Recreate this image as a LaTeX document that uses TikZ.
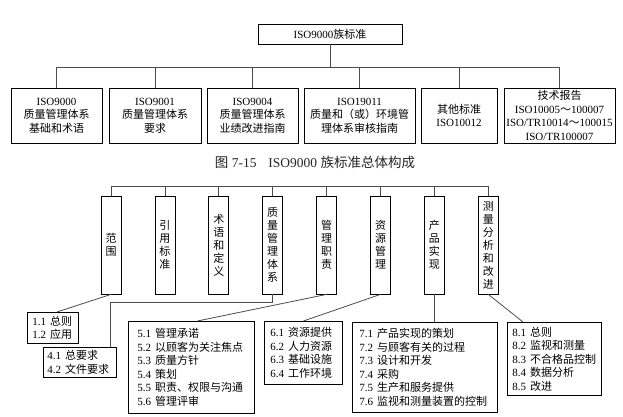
\documentclass[tikz,border=0pt]{standalone}
\usepackage{fontspec}
\setmainfont{Liberation Serif}
\newfontfamily\cjk{Noto Sans CJK SC}
\usetikzlibrary{positioning}

\begin{document}
\begin{tikzpicture}[x=1pt, y=1pt, node distance=100pt,
  famstd/.style={draw, rectangle, line width=0.9pt, minimum height=55pt, inner xsep=1pt, inner ysep=0pt, align=center, font=\fontsize{11}{13.5}\selectfont},
  clause/.style={draw, rectangle, line width=0.8pt, minimum width=20pt, minimum height=98pt, inner sep=0pt, align=center, font=\cjk\fontsize{11}{13}\selectfont},
  sub/.style={draw, rectangle, line width=0.8pt, anchor=north west, align=left, inner ysep=2pt, font=\fontsize{11}{13.5}\selectfont},
  link/.style={draw=black!70, line width=0.8pt}]
\useasboundingbox (0,0) rectangle (623,417);
% ISO9000 family
\node[draw, rectangle, line width=0.9pt, minimum width=144pt, minimum height=20pt, font=\fontsize{11}{13.5}\selectfont] (family) at (330,383) {ISO9000{\cjk 族标准}};
% Standards
\node[famstd, minimum width=91pt] (fam9000) at (56.5,301.5) {ISO9000\\{\cjk 质量管理体系}\\{\cjk 基础和术语}};
\node[famstd, right of=fam9000, minimum width=92pt, xshift=-1.5pt] (fam9001) {ISO9001\\{\cjk 质量管理体系}\\{\cjk 要求}};
\node[famstd, right of=fam9001, minimum width=91pt, xshift=-2.5pt] (fam9004) {ISO9004\\{\cjk 质量管理体系}\\{\cjk 业绩改进指南}};
\node[famstd, right of=fam9004, minimum width=111pt, xshift=7pt] (fam19011) {ISO19011\\{\cjk 质量和（或）环境管}\\{\cjk 理体系审核指南}};
\node[famstd, right of=fam19011, minimum width=76pt, xshift=-0.5pt] (fam10012) {{\cjk 其他标准}\\ISO10012};
\node[famstd, right of=fam10012, minimum width=111pt, xshift=0.5pt] (famTR) {{\cjk 技术报告}\\ISO10005{\cjk ～}100007\\ISO/TR10014{\cjk ～}100015\\ISO/TR100007};
\foreach \f in {fam9000,fam9001,fam9004,fam19011,fam10012,famTR}
  \draw[link] (family.south) -- ++(0,-23) -| (\f.north);
% Caption
\node[font=\fontsize{13.5}{16}\selectfont, text=black!85] (caption) at (315,255) {{\cjk 图} 7-15\hspace{12pt}ISO9000 {\cjk 族标准总体构成}};
% Clauses
\node[clause] (c-scope) at (111,172) {范\\围};
\begin{scope}[node distance=53.9pt]
\node[clause, right of=c-scope] (c-ref) {引\\用\\标\\准};
\node[clause, right of=c-ref] (c-terms) {术\\语\\和\\定\\义};
\node[clause, right of=c-terms] (c-qms) {质\\量\\管\\理\\体\\系};
\node[clause, right of=c-qms] (c-mgmt) {管\\理\\职\\责};
\node[clause, right of=c-mgmt] (c-res) {资\\源\\管\\理};
\node[clause, right of=c-res] (c-prod) {产\\品\\实\\现};
\node[clause, right of=c-prod] (c-meas) {测\\量\\分\\析\\和\\改\\进};
\end{scope}
\draw[link] (c-scope.north) -- ++(0,9) -| (c-meas.north);
\foreach \c in {c-ref,c-terms,c-qms,c-mgmt,c-res,c-prod}
  \draw[link] (\c.north) -- ++(0,9);
% Sub clauses
\node[sub, inner xsep=5pt, text width=41pt, minimum height=31pt] (sub-1) at (27,105) {1.1\hspace{4pt}{\cjk 总则}\\1.2\hspace{4pt}{\cjk 应用}};
\node[sub, inner xsep=4pt, text width=65pt, minimum height=30pt] (sub-4) at (43,70) {4.1\hspace{4pt}{\cjk 总要求}\\4.2\hspace{4pt}{\cjk 文件要求}};
\node[sub, inner xsep=9pt, text width=108pt, minimum height=92pt] (sub-5) at (128,96) {5.1\hspace{4pt}{\cjk 管理承诺}\\5.2\hspace{4pt}{\cjk 以顾客为关注焦点}\\5.3\hspace{4pt}{\cjk 质量方针}\\5.4\hspace{4pt}{\cjk 策划}\\5.5\hspace{4pt}{\cjk 职责、权限与沟通}\\5.6\hspace{4pt}{\cjk 管理评审}};
\node[sub, inner xsep=6pt, text width=66pt, minimum height=63pt] (sub-6) at (264,96) {6.1\hspace{4pt}{\cjk 资源提供}\\6.2\hspace{4pt}{\cjk 人力资源}\\6.3\hspace{4pt}{\cjk 基础设施}\\6.4\hspace{4pt}{\cjk 工作环境}};
\node[sub, inner xsep=7pt, text width=131pt, minimum height=90pt] (sub-7) at (352,95) {7.1\hspace{4pt}{\cjk 产品实现的策划}\\7.2\hspace{4pt}{\cjk 与顾客有关的过程}\\7.3\hspace{4pt}{\cjk 设计和开发}\\7.4\hspace{4pt}{\cjk 采购}\\7.5\hspace{4pt}{\cjk 生产和服务提供}\\7.6\hspace{4pt}{\cjk 监视和测量装置的控制}};
\node[sub, inner xsep=5pt, text width=84pt, minimum height=73pt] (sub-8) at (507,95) {8.1\hspace{4pt}{\cjk 总则}\\8.2\hspace{4pt}{\cjk 监视和测量}\\8.3\hspace{4pt}{\cjk 不合格品控制}\\8.4\hspace{4pt}{\cjk 数据分析}\\8.5\hspace{4pt}{\cjk 改进}};
\draw[link] (c-scope.south) -- ([xshift=4pt]sub-1.north);
\draw[link] (c-qms.south) -- ++(0,-8) -| ([xshift=30.5pt]sub-4.north);
\draw[link] (c-mgmt.south) -- ([xshift=6pt]sub-5.north);
\draw[link] (c-res.south) -- (sub-6.north);
\draw[link] (c-prod.south) -- (c-prod.south |- sub-7.north);
\draw[link] (c-meas.south) -- ([xshift=16pt]sub-8.north west);
\end{tikzpicture}
\end{document}
